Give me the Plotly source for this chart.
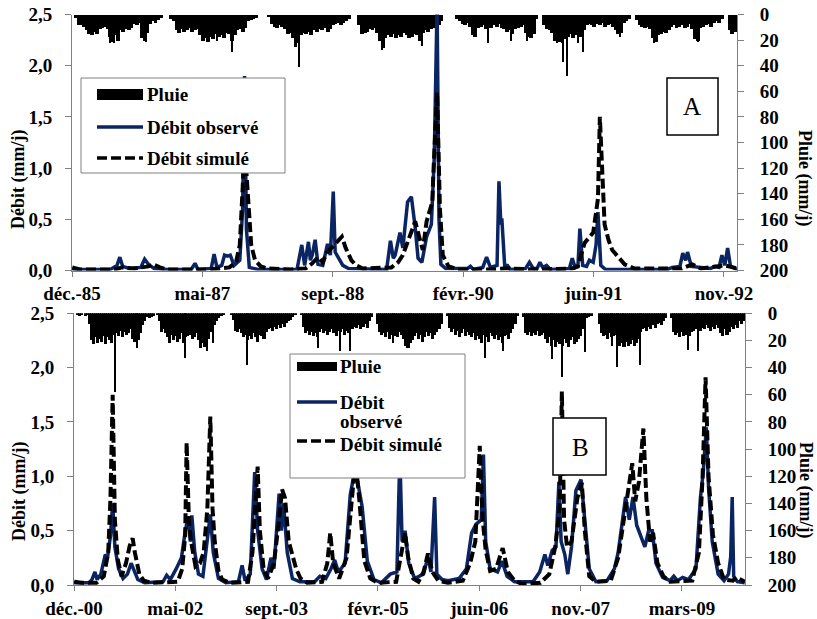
import pandas as pd
import plotly.graph_objects as go

# ---------------------------------------------------------------------------
# Data
# ---------------------------------------------------------------------------
# x-axis labels (one every 500 days, starting on the first day shown)
ticks_A = ["déc.-85", "mai-87", "sept.-88", "févr.-90", "juin-91", "nov.-92"]
ticks_B = ["déc.-00", "mai-02", "sept.-03", "févr.-05", "juin-06", "nov.-07", "mars-09"]
start_A, end_A = "1985-12-31", "1992-12-24"
start_B, end_B = "2000-12-31", "2010-01-24"
tick_step_days = 500

# Rainfall (mm/j), dekadal values (3 per month), panel A starts January 1986
rain_A_first_year = 1986
rain_A = [
    0, 2, 8, 8, 9, 12, 15, 16, 13, 15, 11, 10, 9, 11, 17, 21, 16, 20, 12, 13, 11, 12, 10, 7, 8, 6, 18, 20, 14, 7, 5, 6, 4, 2, 0, 0,        # 1986
    0, 3, 5, 12, 14, 11, 13, 12, 10, 13, 12, 11, 16, 20, 18, 21, 17, 19, 15, 17, 16, 18, 14, 15, 20, 16, 12, 11, 13, 10, 5, 4, 3, 2, 0, 0,  # 1987
    0, 0, 1, 7, 9, 10, 8, 9, 11, 15, 14, 18, 25, 22, 16, 14, 15, 13, 16, 12, 13, 11, 12, 10, 13, 11, 8, 7, 6, 8, 6, 5, 3, 0, 0, 0,        # 1988
    8, 15, 14, 13, 11, 12, 10, 14, 20, 26, 18, 16, 17, 15, 18, 16, 17, 14, 16, 18, 17, 15, 16, 20, 14, 12, 13, 11, 10, 9, 8, 5, 0, 0, 0, 0,  # 1989
    0, 3, 5, 7, 8, 6, 9, 16, 17, 10, 9, 8, 11, 9, 10, 8, 9, 7, 10, 11, 13, 12, 15, 11, 10, 9, 8, 14, 17, 18, 15, 3, 0, 0, 8, 11,          # 1990
    12, 14, 20, 18, 21, 22, 19, 17, 15, 18, 16, 14, 17, 12, 8, 7, 8, 9, 7, 8, 6, 9, 8, 7, 9, 12, 15, 14, 6, 5, 3, 0, 0, 4, 8, 9,          # 1991
    10, 9, 11, 18, 21, 16, 15, 13, 14, 12, 9, 8, 10, 9, 8, 10, 9, 7, 11, 19, 20, 10, 9, 8, 7, 9, 6, 5, 6, 3, 0, 0, 12, 15, 13, 0,        # 1992
]
# isolated daily downpours (decimal year, mm/j)
rain_A_peak_t = [1986.40, 1986.44, 1986.77, 1987.43, 1987.52, 1987.68, 1988.38, 1989.25, 1989.67, 1990.36,
                 1990.61, 1990.77, 1991.09, 1991.15, 1991.19, 1991.31, 1991.36, 1991.75, 1992.11, 1992.57]
rain_A_peak_mm = [22, 22, 21, 21, 20, 29, 41, 27, 24, 22,
                  20, 20, 22, 37, 48, 22, 29, 17, 22, 21]

# Rainfall (mm/j), dekadal values, panel B starts January 2001
rain_B_first_year = 2001
rain_B = [
    0, 1, 2, 1, 0, 2, 1, 8, 20, 23, 18, 22, 19, 21, 17, 23, 18, 20, 22, 16, 15, 17, 13, 18, 14, 16, 15, 12, 19, 21, 18, 20, 15, 9, 6, 3,   # 2001
    4, 3, 2, 0, 1, 6, 14, 12, 15, 18, 22, 16, 20, 17, 21, 19, 15, 22, 18, 17, 16, 19, 18, 15, 20, 26, 22, 25, 24, 19, 14, 12, 9, 6, 4, 2,  # 2002
    1, 0, 0, 0, 1, 5, 13, 14, 12, 15, 18, 16, 20, 17, 19, 15, 18, 21, 16, 17, 19, 14, 12, 11, 13, 10, 12, 9, 11, 8, 10, 7, 6, 5, 3, 1,     # 2003
    0, 0, 1, 10, 15, 13, 16, 14, 17, 15, 18, 14, 12, 15, 13, 16, 14, 12, 15, 17, 13, 14, 12, 16, 13, 15, 11, 12, 10, 11, 9, 12, 10, 8, 11, 6,  # 2004
    3, 0, 0, 8, 14, 16, 15, 18, 14, 19, 16, 15, 17, 18, 14, 16, 19, 24, 26, 22, 20, 17, 15, 19, 16, 21, 18, 14, 17, 15, 19, 16, 14, 12, 8, 0,  # 2005
    0, 2, 11, 14, 12, 16, 13, 18, 15, 12, 17, 14, 16, 18, 15, 20, 17, 19, 22, 16, 18, 21, 15, 17, 19, 16, 20, 18, 22, 17, 16, 19, 15, 12, 8, 2,  # 2006
    0, 0, 3, 15, 16, 14, 17, 15, 16, 13, 17, 16, 15, 19, 22, 18, 24, 20, 25, 21, 23, 24, 19, 22, 25, 20, 18, 23, 21, 19, 17, 12, 5, 4, 3, 2,  # 2007
    0, 0, 0, 8, 15, 17, 16, 19, 15, 18, 17, 16, 20, 24, 22, 25, 21, 24, 23, 20, 24, 22, 19, 14, 12, 11, 13, 10, 12, 9, 11, 8, 7, 9, 6, 4,  # 2008
    0, 0, 4, 14, 16, 15, 18, 14, 17, 16, 15, 17, 14, 13, 12, 10, 13, 11, 12, 9, 11, 13, 10, 12, 9, 11, 15, 17, 12, 16, 14, 10, 12, 9, 11, 6,  # 2009
    8, 6, 4,                                                                                                                                 # 2010
]
rain_B_peak_t = [2001.55, 2001.85, 2002.50, 2002.79, 2002.88, 2003.34, 2004.29, 2004.59, 2004.73, 2005.31,
                 2006.55, 2006.79, 2007.46, 2007.59, 2007.90, 2008.27, 2008.34, 2008.65, 2009.29, 2009.43]
rain_B_peak_mm = [58, 26, 33, 28, 22, 38, 26, 28, 28, 22,
                  33, 28, 34, 47, 29, 24, 40, 38, 27, 28]

# Observed discharge, panel A (decimal year, mm/j)
obs_A_t = [1986.00, 1986.40, 1986.47, 1986.50, 1986.53, 1986.60, 1986.72, 1986.76, 1986.80, 1986.86,
           1987.00, 1987.25, 1987.29, 1987.32, 1987.46, 1987.49, 1987.52, 1987.57, 1987.60, 1987.63,
           1987.66, 1987.70, 1987.76, 1987.79, 1987.81, 1987.83, 1987.86, 1987.95, 1988.36, 1988.41,
           1988.44, 1988.48, 1988.50, 1988.52, 1988.55, 1988.58, 1988.63, 1988.68, 1988.71, 1988.74,
           1988.76, 1988.80, 1988.84, 1988.90, 1989.30, 1989.34, 1989.37, 1989.39, 1989.44, 1989.47,
           1989.52, 1989.56, 1989.60, 1989.63, 1989.67, 1989.72, 1989.77, 1989.80, 1989.83, 1989.85,
           1989.87, 1989.92, 1990.15, 1990.18, 1990.21, 1990.31, 1990.35, 1990.39, 1990.46, 1990.48,
           1990.50, 1990.51, 1990.54, 1990.57, 1990.60, 1990.76, 1990.80, 1990.84, 1990.88, 1990.91,
           1990.94, 1990.98, 1991.02, 1991.22, 1991.25, 1991.28, 1991.31, 1991.33, 1991.36, 1991.40,
           1991.43, 1991.47, 1991.50, 1991.52, 1991.55, 1991.60, 1992.25, 1992.30, 1992.38, 1992.41,
           1992.44, 1992.46, 1992.50, 1992.70, 1992.75, 1992.79, 1992.82, 1992.85, 1992.88, 1992.91,
           1992.98]
obs_A_q = [0.01, 0.01, 0.05, 0.13, 0.04, 0.02, 0.03, 0.11, 0.06, 0.02,
           0.01, 0.01, 0.07, 0.01, 0.02, 0.16, 0.03, 0.05, 0.15, 0.14,
           0.15, 0.05, 0.10, 0.60, 1.90, 0.40, 0.03, 0.01, 0.01, 0.25,
           0.05, 0.28, 0.10, 0.15, 0.30, 0.06, 0.05, 0.26, 0.15, 0.77,
           0.18, 0.12, 0.05, 0.02, 0.01, 0.29, 0.12, 0.15, 0.37, 0.22,
           0.67, 0.72, 0.42, 0.12, 0.08, 0.33, 0.45, 1.10, 2.60, 0.50,
           0.06, 0.02, 0.02, 0.04, 0.01, 0.03, 0.13, 0.03, 0.05, 0.87,
           0.45, 0.51, 0.05, 0.05, 0.01, 0.02, 0.08, 0.02, 0.02, 0.08,
           0.03, 0.05, 0.01, 0.02, 0.12, 0.03, 0.05, 0.41, 0.05, 0.04,
           0.10, 0.08, 0.25, 0.57, 0.05, 0.01, 0.01, 0.03, 0.04, 0.17,
           0.10, 0.18, 0.04, 0.02, 0.04, 0.03, 0.15, 0.05, 0.22, 0.04,
           0.01]

# Simulated discharge, panel A
sim_A_t = [1986.00, 1986.08, 1986.45, 1986.52, 1986.65, 1986.80, 1986.85, 1986.92, 1987.00, 1987.40,
           1987.55, 1987.65, 1987.72, 1987.76, 1987.79, 1987.81, 1987.83, 1987.86, 1987.88, 1987.92,
           1987.98, 1988.05, 1988.30, 1988.45, 1988.52, 1988.58, 1988.63, 1988.67, 1988.72, 1988.78,
           1988.83, 1988.87, 1988.93, 1988.98, 1989.05, 1989.35, 1989.42, 1989.47, 1989.55, 1989.60,
           1989.65, 1989.68, 1989.72, 1989.78, 1989.79, 1989.83, 1989.86, 1989.89, 1989.95, 1990.05,
           1990.40, 1990.55, 1990.90, 1991.25, 1991.31, 1991.38, 1991.47, 1991.52, 1991.54, 1991.56,
           1991.57, 1991.59, 1991.63, 1991.67, 1991.80, 1991.90, 1992.40, 1992.51, 1992.60, 1992.85,
           1992.98]
sim_A_q = [0.03, 0.01, 0.01, 0.03, 0.02, 0.04, 0.06, 0.03, 0.01, 0.01,
           0.02, 0.03, 0.08, 0.25, 0.80, 1.30, 0.95, 0.45, 0.25, 0.10,
           0.04, 0.02, 0.01, 0.02, 0.07, 0.13, 0.08, 0.17, 0.22, 0.27,
           0.33, 0.22, 0.10, 0.05, 0.02, 0.03, 0.08, 0.15, 0.35, 0.48,
           0.30, 0.20, 0.48, 0.67, 0.93, 1.74, 0.60, 0.15, 0.04, 0.01,
           0.01, 0.02, 0.01, 0.02, 0.04, 0.27, 0.37, 0.70, 1.50, 1.10,
           0.86, 0.45, 0.30, 0.20, 0.06, 0.02, 0.02, 0.06, 0.02, 0.05,
           0.02]

# Observed discharge, panel B
obs_B_t = [2001.00, 2001.20, 2001.24, 2001.28, 2001.31, 2001.36, 2001.42, 2001.45, 2001.49, 2001.52,
           2001.55, 2001.60, 2001.66, 2001.72, 2001.77, 2001.80, 2001.86, 2001.95, 2002.20, 2002.25,
           2002.30, 2002.38, 2002.45, 2002.50, 2002.54, 2002.57, 2002.59, 2002.63, 2002.68, 2002.74,
           2002.79, 2002.84, 2002.88, 2002.95, 2003.05, 2003.22, 2003.27, 2003.31, 2003.38, 2003.44,
           2003.48, 2003.54, 2003.60, 2003.66, 2003.70, 2003.77, 2003.80, 2003.83, 2003.88, 2003.95,
           2004.05, 2004.25, 2004.32, 2004.40, 2004.47, 2004.52, 2004.57, 2004.66, 2004.73, 2004.79,
           2004.83, 2004.89, 2004.96, 2005.05, 2005.15, 2005.27, 2005.36, 2005.40, 2005.43, 2005.47,
           2005.52, 2005.60, 2005.72, 2005.78, 2005.82, 2005.87, 2005.90, 2005.97, 2006.05, 2006.20,
           2006.30, 2006.37, 2006.43, 2006.50, 2006.53, 2006.56, 2006.62, 2006.72, 2006.78, 2006.85,
           2006.95, 2007.20, 2007.29, 2007.36, 2007.40, 2007.46, 2007.51, 2007.55, 2007.58, 2007.63,
           2007.67, 2007.72, 2007.78, 2007.85, 2007.90, 2007.96, 2008.05, 2008.20, 2008.30, 2008.35,
           2008.40, 2008.45, 2008.50, 2008.55, 2008.60, 2008.66, 2008.71, 2008.76, 2008.81, 2008.86,
           2008.95, 2009.05, 2009.10, 2009.15, 2009.22, 2009.30, 2009.40, 2009.46, 2009.50, 2009.54,
           2009.57, 2009.62, 2009.70, 2009.78, 2009.84, 2009.87, 2009.89, 2009.91, 2009.96, 2010.06]
obs_B_q = [0.02, 0.02, 0.05, 0.12, 0.05, 0.10, 0.28, 0.25, 0.45, 0.75,
           0.35, 0.15, 0.06, 0.10, 0.20, 0.15, 0.05, 0.02, 0.03, 0.09,
           0.05, 0.15, 0.25, 0.49, 0.63, 0.40, 0.64, 0.30, 0.10, 0.08,
           0.35, 0.65, 0.30, 0.06, 0.02, 0.03, 0.18, 0.04, 0.10, 1.04,
           0.50, 0.15, 0.05, 0.25, 0.15, 0.84, 0.50, 0.75, 0.30, 0.06,
           0.03, 0.03, 0.08, 0.06, 0.15, 0.23, 0.12, 0.20, 0.83, 1.05,
           0.95, 0.72, 0.22, 0.05, 0.02, 0.10, 0.12, 1.20, 0.40, 0.50,
           0.20, 0.06, 0.10, 0.26, 0.12, 0.81, 0.10, 0.05, 0.04, 0.06,
           0.15, 0.48, 0.56, 0.60, 1.20, 0.40, 0.15, 0.12, 0.22, 0.08,
           0.03, 0.03, 0.12, 0.28, 0.18, 0.32, 0.35, 0.95, 0.40, 0.28,
           0.10, 0.35, 0.87, 0.97, 0.60, 0.15, 0.03, 0.04, 0.15, 0.30,
           0.55, 0.81, 0.60, 0.81, 0.55, 0.45, 0.35, 0.50, 0.50, 0.20,
           0.07, 0.04, 0.08, 0.04, 0.07, 0.05, 0.15, 0.80, 1.05, 1.45,
           0.90, 0.40, 0.10, 0.04, 0.10, 0.26, 0.81, 0.08, 0.03, 0.02]

# Simulated discharge, panel B
sim_B_t = [2001.00, 2001.10, 2001.30, 2001.40, 2001.46, 2001.49, 2001.52, 2001.55, 2001.59, 2001.64,
           2001.70, 2001.75, 2001.79, 2001.82, 2001.88, 2001.94, 2002.05, 2002.40, 2002.46, 2002.50,
           2002.52, 2002.55, 2002.58, 2002.64, 2002.70, 2002.75, 2002.80, 2002.84, 2002.87, 2002.90,
           2002.95, 2003.00, 2003.10, 2003.35, 2003.41, 2003.48, 2003.51, 2003.56, 2003.62, 2003.70,
           2003.77, 2003.81, 2003.85, 2003.90, 2004.00, 2004.06, 2004.15, 2004.35, 2004.42, 2004.46,
           2004.50, 2004.58, 2004.68, 2004.76, 2004.80, 2004.85, 2004.92, 2005.00, 2005.10, 2005.35,
           2005.42, 2005.47, 2005.51, 2005.58, 2005.65, 2005.72, 2005.78, 2005.84, 2005.92, 2006.05,
           2006.25, 2006.35, 2006.42, 2006.48, 2006.52, 2006.56, 2006.62, 2006.70, 2006.79, 2006.86,
           2006.95, 2007.05, 2007.30, 2007.42, 2007.50, 2007.56, 2007.59, 2007.62, 2007.66, 2007.72,
           2007.80, 2007.86, 2007.90, 2007.96, 2008.05, 2008.25, 2008.35, 2008.45, 2008.50, 2008.54,
           2008.58, 2008.63, 2008.69, 2008.73, 2008.78, 2008.82, 2008.88, 2008.96, 2009.05, 2009.35,
           2009.44, 2009.49, 2009.53, 2009.57, 2009.63, 2009.70, 2009.78, 2009.90, 2009.95, 2010.06]
sim_B_q = [0.03, 0.02, 0.02, 0.08, 0.30, 0.80, 1.75, 0.60, 0.23, 0.08,
           0.20, 0.36, 0.43, 0.30, 0.10, 0.04, 0.02, 0.03, 0.15, 0.45,
           1.31, 0.60, 0.40, 0.17, 0.20, 0.30, 0.70, 1.55, 0.70, 0.40,
           0.13, 0.05, 0.02, 0.03, 0.30, 1.09, 0.50, 0.15, 0.06, 0.20,
           0.60, 0.88, 0.80, 0.40, 0.15, 0.06, 0.02, 0.03, 0.20, 0.48,
           0.20, 0.06, 0.25, 0.80, 1.15, 0.80, 0.22, 0.06, 0.02, 0.03,
           0.30, 0.48, 0.26, 0.06, 0.03, 0.12, 0.29, 0.12, 0.04, 0.02,
           0.04, 0.20, 0.40, 1.28, 0.60, 0.32, 0.13, 0.15, 0.34, 0.12,
           0.04, 0.01, 0.02, 0.10, 0.35, 0.70, 1.78, 0.60, 0.35, 0.40,
           0.80, 0.94, 0.50, 0.08, 0.03, 0.04, 0.25, 0.70, 0.90, 1.12,
           0.77, 0.95, 1.44, 0.80, 0.40, 0.48, 0.20, 0.08, 0.03, 0.04,
           0.30, 1.00, 1.91, 1.00, 0.46, 0.20, 0.05, 0.04, 0.07, 0.03]

# ---------------------------------------------------------------------------
# Styling
# ---------------------------------------------------------------------------
W, H = 817, 619
SERIF = "Liberation Serif"
NAVY = "#0b2462"
AXIS_GREY = "#808080"
DASH = "10px,4px"


def px(x):
    return x / W


def py(y):
    return 1 - y / H


def year_to_date(values):
    out = []
    for v in values:
        y = int(v)
        a, b = pd.Timestamp(y, 1, 1), pd.Timestamp(y + 1, 1, 1)
        out.append(a + (b - a) * (v - y))
    return out


def dekad_bars(first_year, n, overlap=1.5):
    """Centres and widths (ms) of consecutive dekads starting in January.
    Bars are slightly widened so that neighbouring dekads merge into one block."""
    centres, widths = [], []
    for i in range(n):
        y = first_year + i // 36
        m = (i % 36) // 3 + 1
        d = i % 3
        start = pd.Timestamp(y, m, 1 + 10 * d)
        end = pd.Timestamp(y, m, 1 + 10 * (d + 1)) if d < 2 else pd.Timestamp(y, m, 1) + pd.offsets.MonthBegin(1)
        centres.append(start + (end - start) / 2)
        widths.append((end - start).total_seconds() * 1000 * overlap)
    return centres, widths


fig = go.Figure()


def add_panel(xa, ya_rain, ya_q, rain, first_year, pk_t, pk_mm, pk_days, o_t, o_q, s_t, s_q):
    xc, wd = dekad_bars(first_year, len(rain))
    fig.add_trace(go.Bar(x=xc, y=rain, width=wd, marker=dict(color="black", line=dict(width=0)),
                         xaxis=xa, yaxis=ya_rain, name="Pluie", hoverinfo="skip"))
    fig.add_trace(go.Bar(x=year_to_date(pk_t), y=pk_mm, width=[pk_days * 86400000] * len(pk_t),
                         marker=dict(color="black", line=dict(width=0)),
                         xaxis=xa, yaxis=ya_rain, name="Pluie", hoverinfo="skip"))
    fig.add_trace(go.Scatter(x=year_to_date(o_t), y=o_q, mode="lines", name="Débit observé",
                             line=dict(color=NAVY, width=3.5), xaxis=xa, yaxis=ya_q))
    fig.add_trace(go.Scatter(x=year_to_date(s_t), y=s_q, mode="lines", name="Débit simulé",
                             line=dict(color="black", width=4, dash=DASH), xaxis=xa, yaxis=ya_q))


add_panel("x", "y", "y2", rain_A, rain_A_first_year, rain_A_peak_t, rain_A_peak_mm, 4,
          obs_A_t, obs_A_q, sim_A_t, sim_A_q)
add_panel("x2", "y3", "y4", rain_B, rain_B_first_year, rain_B_peak_t, rain_B_peak_mm, 5,
          obs_B_t, obs_B_q, sim_B_t, sim_B_q)

tick_font = dict(family=SERIF, size=19, color="black", weight="bold")
common = dict(showline=True, linecolor=AXIS_GREY, linewidth=1, ticks="outside", tickcolor=AXIS_GREY,
              showgrid=False, zeroline=False, tickfont=tick_font, fixedrange=True, automargin=False)


def x_axis(domain, start, end, labels, anchor):
    vals = [pd.Timestamp(start) + pd.Timedelta(days=tick_step_days * k) for k in range(len(labels))]
    return dict(type="date", domain=domain, range=[start, end], tickmode="array", tickvals=vals,
                ticktext=labels, ticklen=5, ticklabelstandoff=1, anchor=anchor, **common)


def rain_axis(domain, anchor):
    return dict(domain=domain, range=[200, 0], side="right", anchor=anchor, tickmode="linear",
                tick0=0, dtick=20, ticklen=6, ticklabelstandoff=12, **common)


def flow_axis(over, anchor):
    return dict(overlaying=over, side="left", anchor=anchor, range=[0, 2.5], tickmode="linear",
                tick0=0, dtick=0.5, tickformat=".1f", ticklen=6, ticklabelstandoff=9, **common)


fig.update_layout(
    width=W, height=H, autosize=False,
    margin=dict(l=0, r=0, t=0, b=0, pad=0, autoexpand=False),
    paper_bgcolor="white", plot_bgcolor="white",
    barmode="overlay", bargap=0, showlegend=False, separators=", ",
    font=dict(family=SERIF, color="black"),
    xaxis=x_axis([px(72), px(737)], start_A, end_A, ticks_A, "y"),
    yaxis=rain_axis([py(270.5), py(14.5)], "x"),
    yaxis2=flow_axis("y", "x"),
    xaxis2=x_axis([px(74), px(745)], start_B, end_B, ticks_B, "y3"),
    yaxis3=rain_axis([py(585), py(313.3)], "x2"),
    yaxis4=flow_axis("y3", "x2"),
)

# ---------------------------------------------------------------------------
# Axis titles, legends and panel letters
# ---------------------------------------------------------------------------
title_font = dict(family=SERIF, size=18, color="black", weight="bold")
legend_font = dict(family=SERIF, size=19, color="black", weight="bold")
annotations = []
shapes = []


def text(x, y, s, font, xanchor="center", angle=0):
    annotations.append(dict(x=px(x), y=py(y), xref="paper", yref="paper", text=s, showarrow=False,
                            xanchor=xanchor, yanchor="middle", align="left", textangle=angle,
                            font=font, borderpad=0))


def rect(x0, y0, x1, y1, color, width, fill="white"):
    shapes.append(dict(type="rect", xref="paper", yref="paper", x0=px(x0), x1=px(x1),
                       y0=py(y1), y1=py(y0), line=dict(color=color, width=width), fillcolor=fill,
                       layer="above"))


def seg(x0, x1, y, color, dash="solid"):
    shapes.append(dict(type="line", xref="paper", yref="paper", x0=px(x0), x1=px(x1),
                       y0=py(y), y1=py(y), line=dict(color=color, width=3.5, dash=dash), layer="above"))


# axis titles
text(19, 180, "Débit (mm/j)", title_font, angle=-90)
text(805, 178, "Pluie (mm/j)", title_font, angle=90)
text(19, 492, "Débit (mm/j)", title_font, angle=-90)
text(806, 490, "Pluie (mm/j)", title_font, angle=90)

# legend, panel A
rect(81, 78, 285, 173, AXIS_GREY, 1)
rect(97, 89, 143, 100, "black", 0, fill="black")
seg(97, 143, 127, NAVY)
seg(97, 143, 158, "black", DASH)
text(146, 95, "Pluie", legend_font, xanchor="left")
text(146, 128, "Débit observé", legend_font, xanchor="left")
text(146, 158, "Débit simulé", legend_font, xanchor="left")

# legend, panel B
rect(290, 354, 465, 478, AXIS_GREY, 1)
rect(297, 362, 337, 371, "black", 0, fill="black")
seg(297, 337, 402, NAVY)
seg(297, 337, 441, "black", DASH)
text(339, 366, "Pluie", legend_font, xanchor="left")
text(339, 402, "Débit", legend_font, xanchor="left")
text(339, 421, "observé", legend_font, xanchor="left")
text(339, 444, "Débit simulé", legend_font, xanchor="left")

# panel letters
letter_font = dict(family=SERIF, size=25, color="black")
rect(667, 78, 718, 135, "black", 1.5)
text(692, 107, "A", letter_font)
rect(553, 418, 606, 475, "black", 1.5)
text(580, 447, "B", letter_font)

fig.update_layout(annotations=annotations, shapes=shapes)

fig.write_html("out.html")
